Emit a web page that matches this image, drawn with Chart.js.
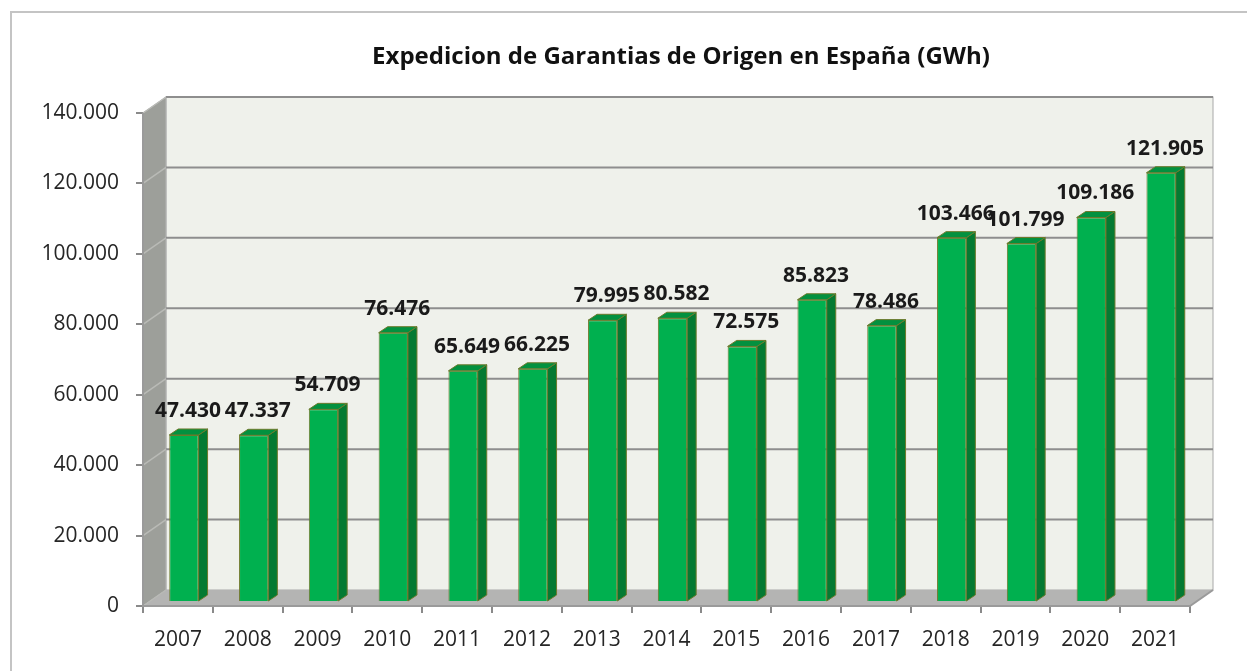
<!DOCTYPE html>
<html>
<head>
<meta charset="utf-8">
<title>Expedicion de Garantias de Origen en España</title>
<script src="https://cdn.jsdelivr.net/npm/chart.js@4"></script>
<style>
  body { margin: 0; background: #fff; overflow: hidden; }
</style>
</head>
<body>
<canvas id="myChart" width="1247" height="671"></canvas>
<script>
'use strict';

const years = ['2007', '2008', '2009', '2010', '2011', '2012', '2013', '2014', '2015', '2016', '2017', '2018', '2019', '2020', '2021'];
const gwh = [47430, 47337, 54709, 76476, 65649, 66225, 79995, 80582, 72575, 85823, 78486, 103466, 101799, 109186, 121905];
const yMin = 0;
const yMax = 140000;
const yStep = 20000;
const chartTitle = 'Expedicion de Garantias de Origen en España (GWh)';

const FONT = "'Open Sans', 'Liberation Sans', sans-serif";

// depth of the fake 3d box, and of the bars
const DX = 23, DY = 16;
const BAR_SHIFT_X = 6, BAR_SHIFT_Y = -4;
const BAR_DX = 9, BAR_DY = 6;

function fmt(n) {
  return String(n).replace(/\B(?=(\d{3})+(?!\d))/g, '.');
}

const box3d = {
  id: 'box3d',
  beforeDraw(chart) {
    const ctx = chart.ctx;
    ctx.save();
    // outer frame
    ctx.strokeStyle = '#c4c4c4';
    ctx.lineWidth = 2;
    ctx.beginPath();
    ctx.moveTo(11, 671);
    ctx.lineTo(11, 12);
    ctx.lineTo(1247, 12);
    ctx.stroke();
    // title, centred over the 3d box
    const a = chart.chartArea;
    ctx.fillStyle = '#111';
    ctx.font = 'bold 24px ' + FONT;
    ctx.textAlign = 'center';
    ctx.textBaseline = 'middle';
    ctx.fillText(chartTitle, (a.left + a.right + DX) / 2 + 3, 57);
    ctx.restore();
  },
  beforeDatasetsDraw(chart) {
    const ctx = chart.ctx;
    const a = chart.chartArea;
    const y = chart.scales.y;
    ctx.save();
    // back wall
    ctx.fillStyle = '#eff1eb';
    ctx.fillRect(a.left + DX, a.top - DY, a.right - a.left, a.bottom - a.top);
    ctx.strokeStyle = '#a8a8a8';
    ctx.lineWidth = 1;
    ctx.strokeRect(a.left + DX, a.top - DY, a.right - a.left, a.bottom - a.top);
    // left wall
    ctx.fillStyle = '#9d9f9a';
    ctx.beginPath();
    ctx.moveTo(a.left, a.top);
    ctx.lineTo(a.left + DX, a.top - DY);
    ctx.lineTo(a.left + DX, a.bottom - DY);
    ctx.lineTo(a.left, a.bottom);
    ctx.closePath();
    ctx.fill();
    ctx.strokeStyle = '#b5b5b5';
    ctx.stroke();
    // floor
    ctx.fillStyle = '#b4b4b3';
    ctx.beginPath();
    ctx.moveTo(a.left, a.bottom);
    ctx.lineTo(a.left + DX, a.bottom - DY);
    ctx.lineTo(a.right + DX, a.bottom - DY);
    ctx.lineTo(a.right, a.bottom);
    ctx.closePath();
    ctx.fill();
    // gridlines: back wall + diagonal on side wall
    y.ticks.forEach(t => {
      const py = y.getPixelForValue(t.value);
      if (t.value > 0) {
        ctx.strokeStyle = '#8e8e8e';
        ctx.lineWidth = 2;
        ctx.beginPath();
        ctx.moveTo(a.left + DX, py - DY);
        ctx.lineTo(a.right + DX, py - DY);
        ctx.stroke();
      }
      ctx.strokeStyle = '#b9bab6';
      ctx.lineWidth = 1.5;
      ctx.beginPath();
      ctx.moveTo(a.left, py);
      ctx.lineTo(a.left + DX, py - DY);
      ctx.stroke();
    });
    // front edges
    ctx.strokeStyle = '#9a9a9a';
    ctx.lineWidth = 2;
    ctx.beginPath();
    ctx.moveTo(a.left, a.top);
    ctx.lineTo(a.left, a.bottom);
    ctx.lineTo(a.right, a.bottom);
    ctx.lineTo(a.right + DX, a.bottom - DY);
    ctx.stroke();
    ctx.restore();

    // bars sit in the middle of the depth
    ctx.save();
    ctx.translate(BAR_SHIFT_X, BAR_SHIFT_Y);
  },
  afterDatasetsDraw(chart) {
    const ctx = chart.ctx;
    ctx.restore();
    const meta = chart.getDatasetMeta(0);
    ctx.save();
    ctx.translate(BAR_SHIFT_X, BAR_SHIFT_Y);
    ctx.lineWidth = 1;
    ctx.strokeStyle = '#6d7a2c';
    meta.data.forEach(bar => {
      const x0 = bar.x - bar.width / 2;
      const x1 = bar.x + bar.width / 2;
      const top = bar.y;
      const base = bar.base;
      // side face
      ctx.fillStyle = '#047a32';
      ctx.beginPath();
      ctx.moveTo(x1, top);
      ctx.lineTo(x1 + BAR_DX, top - BAR_DY);
      ctx.lineTo(x1 + BAR_DX, base - BAR_DY);
      ctx.lineTo(x1, base);
      ctx.closePath();
      ctx.fill();
      ctx.stroke();
      // top face
      ctx.fillStyle = '#03913f';
      ctx.beginPath();
      ctx.moveTo(x0, top);
      ctx.lineTo(x0 + BAR_DX, top - BAR_DY);
      ctx.lineTo(x1 + BAR_DX, top - BAR_DY);
      ctx.lineTo(x1, top);
      ctx.closePath();
      ctx.fill();
      ctx.stroke();
    });
    // value labels
    ctx.fillStyle = '#1a1a1a';
    ctx.font = 'bold 21px ' + FONT;
    ctx.textAlign = 'center';
    ctx.textBaseline = 'middle';
    meta.data.forEach((bar, i) => {
      ctx.fillText(fmt(gwh[i]), bar.x + 4, bar.y - 24);
    });
    ctx.restore();
  }
};

const ctx = document.getElementById('myChart').getContext('2d');
const chart = new Chart(ctx, {
  type: 'bar',
  data: {
    labels: years,
    datasets: [{
      label: 'GWh',
      data: gwh,
      backgroundColor: '#00b04f',
      borderColor: '#6d7a2c',
      borderWidth: 1,
      categoryPercentage: 1,
      barPercentage: 0.42
    }]
  },
  options: {
    responsive: false,
    animation: false,
    layout: { padding: { left: 0, right: 57, top: 113, bottom: 0 } },
    plugins: {
      legend: { display: false },
      tooltip: { enabled: false },
      title: { display: false }
    },
    scales: {
      x: {
        afterFit(scale) { scale.height = 65; },
        border: { display: false },
        grid: { display: true, drawOnChartArea: false, offset: true, tickLength: 7, color: '#8a8a8a', lineWidth: 2 },
        ticks: { color: '#262626', padding: 14, font: { family: FONT, size: 21 } }
      },
      y: {
        min: yMin,
        max: yMax,
        afterFit(scale) { scale.width = 143; },
        border: { display: false },
        grid: { display: true, drawOnChartArea: false, tickLength: 7, color: '#8a8a8a', lineWidth: 2 },
        ticks: {
          stepSize: yStep,
          color: '#262626',
          padding: 17,
          font: { family: FONT, size: 21 },
          callback: v => fmt(v)
        }
      }
    }
  },
  plugins: [box3d]
});
</script>
</body>
</html>
